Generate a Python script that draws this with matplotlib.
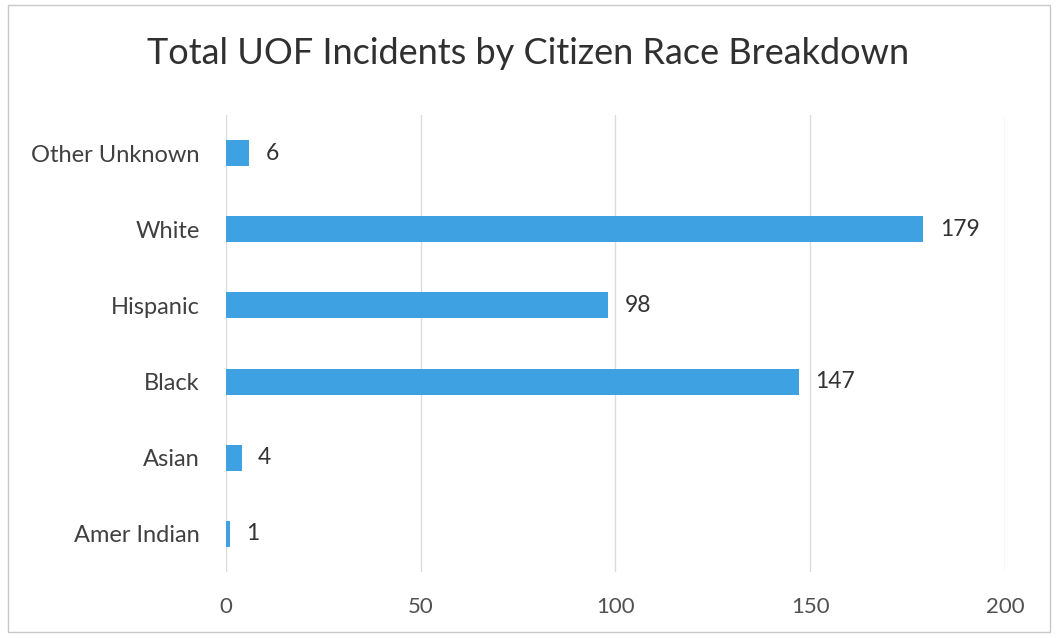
import matplotlib
matplotlib.use("Agg")
import matplotlib.pyplot as plt
from matplotlib.patches import Rectangle

categories = ["Amer Indian", "Asian", "Black", "Hispanic", "White", "Other Unknown"]
values = [1, 4, 147, 98, 179, 6]
xticks = [0, 50, 100, 150, 200]
title = "Total UOF Incidents by Citizen Race Breakdown"

plt.rcParams['font.family'] = ['Lato', 'DejaVu Sans']
fig = plt.figure(figsize=(10.56, 6.38), dpi=100)
ax = fig.add_axes([0.214, 0.1034, 0.7377, 0.7163])

bar_color = "#3ea2e2"
ypos = list(range(len(categories)))
ax.barh(ypos, values, height=0.34, color=bar_color, zorder=3)
for y, v in zip(ypos, values):
    ax.annotate(str(v), (v, y), xytext=(12, 0), textcoords="offset points",
                va="center", ha="left", fontsize=16.5, color="#333333")

ax.set_xlim(0, 200)
ax.set_ylim(-0.5, len(categories) - 0.5)
ax.set_yticks(ypos)
ax.set_yticklabels(categories, fontsize=17, color="#404040")
ax.set_xticks(xticks)
ax.set_xticklabels([str(t) for t in xticks], fontsize=16, color="#505050")
ax.tick_params(axis="both", length=0)
ax.tick_params(axis="y", pad=19)
ax.tick_params(axis="x", pad=18)
ax.grid(axis="x", color="#dcdcdc", linewidth=1, zorder=0)
for s in ax.spines.values():
    s.set_visible(False)

fig.text(0.5, 1 - 54 / 638, title, ha="center", va="center", fontsize=26, color="#303030")

# outer chart border
fig.patches.append(Rectangle((8 / 1056, 1 - 632 / 638), (1050 - 8) / 1056, (632 - 5) / 638,
                             transform=fig.transFigure, fill=False, edgecolor="#c8c8c8", linewidth=1))

fig.savefig("out.png", dpi=100)
